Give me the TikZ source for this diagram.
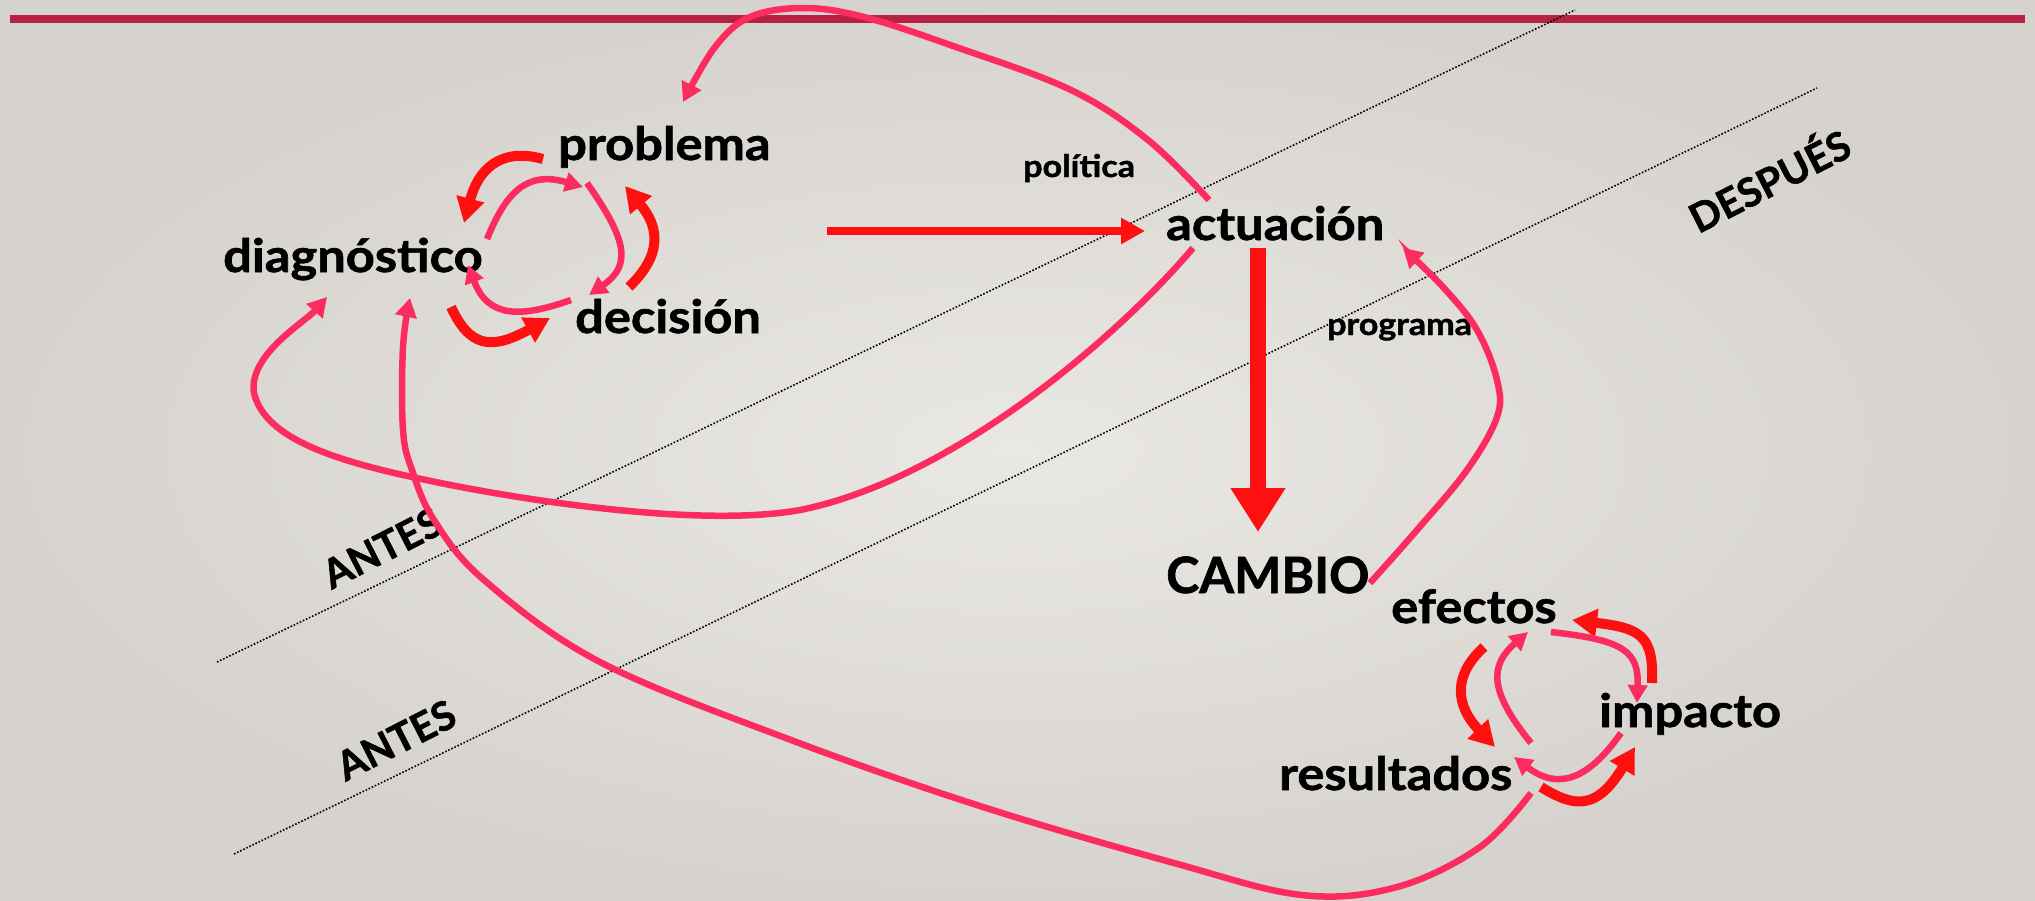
\documentclass[tikz,border=0pt]{standalone}
\usepackage{fontspec}
\setmainfont{Lato}[BoldFeatures={FakeBold=1.3}]
\usetikzlibrary{arrows.meta}
\definecolor{arrred}{HTML}{FF1010}
\definecolor{arrpink}{HTML}{FC2C5E}
\definecolor{barred}{HTML}{B72244}
\definecolor{bgin}{HTML}{EAE8E4}
\definecolor{bgout}{HTML}{D6D3CE}
\begin{document}
\begin{tikzpicture}[x=1pt,y=-1pt,
  lbl/.style={anchor=base west, inner sep=0pt, xscale=1.1, font=\fontsize{46}{46}\selectfont\bfseries},
  smalllbl/.style={anchor=base west, inner sep=0pt, xscale=1.1, font=\fontsize{31}{31}\selectfont\bfseries},
  side/.style={inner sep=0pt, rotate=27, font=\fontsize{40}{40}\selectfont\bfseries},
  pinkarr/.style={draw=arrpink, line width=6.5pt, -{Triangle[length=18pt,width=19pt]}},
  bigpink/.style={draw=arrpink, line width=6.5pt, -{Triangle[length=19pt,width=21pt]}},
  redarr/.style={draw=arrred, line width=10pt, -{Triangle[length=25pt,width=27pt]}},
  sepline/.style={draw=black, line width=1.6pt, dash pattern=on 1.6pt off 1.8pt}]
\useasboundingbox (0,0) rectangle (2035,900);
\shade[inner color=bgin, outer color=bgout] (0,0) rectangle (2035,900);
% top bar
\coordinate (barL) at (10,19);
\coordinate (barR) at (2025,19);
\draw[barred, line width=8pt] (barL) -- (barR);
% dotted separators
\coordinate (s1a) at (217,662);
\coordinate (s1b) at (1575,10);
\coordinate (s2a) at (234,854);
\coordinate (s2b) at (1817,88);
\draw[sepline] (s1a) -- (s1b);
\draw[sepline] (s2a) -- (s2b);
% labels
\node[lbl] (problema) at (558,160) {problema};
\node[lbl] (diagnostico) at (223,272) {diagnóstico};
\node[lbl] (decision) at (575,333) {decisión};
\node[lbl] (actuacion) at (1166,240) {actuación};
\node[smalllbl] (politica) at (1023,177) {política};
\node[smalllbl] (programa) at (1327,335) {programa};
\node[lbl, xscale=1/1.1, font=\fontsize{50}{50}\selectfont\bfseries] (cambio) at (1166,593) {CAMBIO};
\node[lbl] (efectos) at (1391,623) {efectos};
\node[lbl] (impacto) at (1599,727) {impacto};
\node[lbl] (resultados) at (1279,790) {resultados};
\node[side] (despues) at (1768,178) {DESPUÉS};
\node[side] (antes1) at (382,548) {ANTES};
\node[side] (antes2) at (396,740) {ANTES};
% main arrows
\coordinate (hA) at (827,231);
\coordinate (hB) at (1145,231);
\draw[draw=arrred, line width=8pt, -{Triangle[length=24pt,width=25pt]}] (hA) -- (hB);
\coordinate (vA) at (1258,248);
\coordinate (vB) at (1258,532);
\draw[draw=arrred, line width=16pt, -{Triangle[length=44pt,width=52pt]}] (vA) -- (vB);
% upper cycle
\coordinate (ra1) at (543,159); \coordinate (ra2) at (464,223);
\coordinate (rb1) at (629,287); \coordinate (rb2) at (625,186);
\coordinate (rc1) at (451,307); \coordinate (rc2) at (550,318);
\coordinate (pa1) at (487,239); \coordinate (pa2) at (583,187);
\coordinate (pb1) at (587,183); \coordinate (pb2) at (589,295);
\coordinate (pc1) at (571,300); \coordinate (pc2) at (468,265);
\draw[redarr] (ra1) .. controls (500,147) and (478,170) .. (ra2);
\draw[redarr] (rb1) .. controls (662,255) and (660,228) .. (rb2);
\draw[redarr] (rc1) .. controls (470,348) and (492,350) .. (rc2);
\draw[pinkarr] (pa1) .. controls (505,195) and (525,170) .. (pa2);
\draw[pinkarr] (pb1) .. controls (627,240) and (632,265) .. (pb2);
\draw[pinkarr] (pc1) .. controls (520,318) and (488,318) .. (pc2);
% lower cycle
\coordinate (r11) at (1484,647); \coordinate (r12) at (1495,747);
\coordinate (r21) at (1541,787); \coordinate (r22) at (1635,747);
\coordinate (r31) at (1652,683); \coordinate (r32) at (1572,620);
\coordinate (p41) at (1531,743); \coordinate (p42) at (1528,632);
\coordinate (p51) at (1551,632); \coordinate (p52) at (1637,703);
\coordinate (p61) at (1621,733); \coordinate (p62) at (1514,757);
\draw[redarr] (r11) .. controls (1453,675) and (1455,705) .. (r12);
\draw[redarr] (r21) .. controls (1575,808) and (1597,810) .. (r22);
\draw[redarr] (r31) .. controls (1654,635) and (1640,628) .. (r32);
\draw[pinkarr] (p41) .. controls (1488,690) and (1490,665) .. (p42);
\draw[pinkarr] (p51) .. controls (1622,640) and (1639,650) .. (p52);
\draw[pinkarr] (p61) .. controls (1590,777) and (1560,792) .. (p62);
% big curves
\coordinate (c1s) at (1209,200); \coordinate (c1e) at (683,102);
\draw[bigpink] plot[smooth, tension=0.6] coordinates {(c1s) (1148,140) (1071,90) (956,47) (864,17) (803,8) (750,17) (715,47) (c1e)};
\coordinate (c2s) at (1193,248); \coordinate (c2e) at (327,297);
\draw[bigpink] (c2s) .. controls (1115,340) and (950,480) .. (800,510)
  .. controls (700,528) and (520,500) .. (426,480)
  .. controls (340,462) and (265,440) .. (254,393)
  .. controls (248,355) and (305,322) .. (c2e);
\coordinate (c3s) at (1531,793); \coordinate (c3e) at (410,298);
\draw[bigpink] plot[smooth, tension=0.6] coordinates {(c3s) (1480,847) (1397,887) (1302,895) (1174,863) (983,807) (791,740) (600,662) (484,580) (434,520) (412,470) (403,430) (403,347) (c3e)};
\coordinate (c4s) at (1370,583); \coordinate (c4e) at (1403,248);
\draw[bigpink] plot[smooth, tension=0.6] coordinates {(c4s) (1417,530) (1467,470) (1497,417) (1497,380) (1477,330) (1443,287) (c4e)};
\end{tikzpicture}
\end{document}
